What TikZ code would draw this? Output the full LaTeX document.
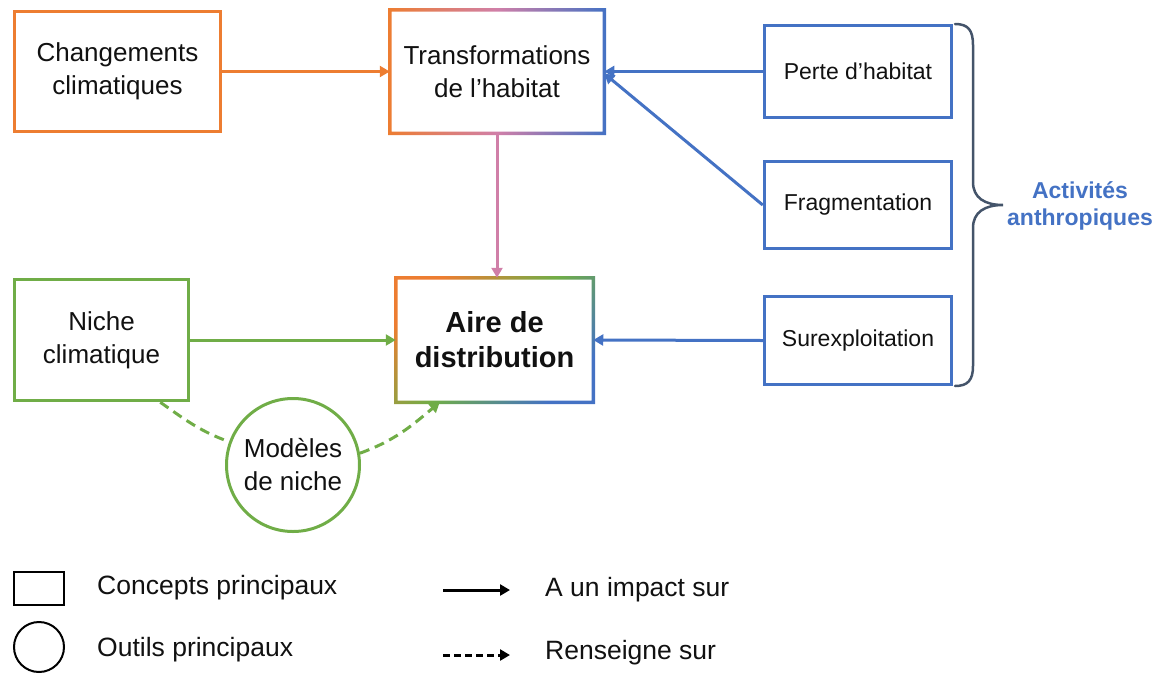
\documentclass[tikz,border=0pt]{standalone}
\usepackage{fontspec}
\setmainfont{Liberation Sans}
\usetikzlibrary{arrows.meta,shapes.geometric}
\definecolor{corange}{HTML}{ED7D31}
\definecolor{cblue}{HTML}{4472C4}
\definecolor{cgreen}{HTML}{70AD47}
\definecolor{cpink}{HTML}{D07FA8}
\definecolor{cbrace}{HTML}{44546A}
\definecolor{ctext}{HTML}{111111}
\begin{document}
\begin{tikzpicture}[x=1pt,y=1pt,
  box/.style={rectangle, line width=3.5pt, align=center, inner sep=0pt, text=ctext,
    font=\fontsize{26}{33}\selectfont},
  sbox/.style={box, draw=cblue, font=\fontsize{23}{27}\selectfont},
  arr/.style={line width=3pt, -{Triangle[length=10pt,width=11pt]}},
  darr/.style={arr, dash pattern=on 10pt off 6pt},
  legtext/.style={anchor=west, inner sep=0pt, text=ctext, font=\fontsize{26.5}{31}\selectfont},
]
\useasboundingbox (0,0) rectangle (1163,-673);

% main nodes
\node[box, draw=corange, minimum width=206pt, minimum height=120pt] (cc) at (117.5,-71.5) {Changements\\climatiques};
\node[box, minimum width=211pt, minimum height=120pt] (tr) at (497,-71.5) {Transformations\\de l’habitat};
\node[sbox, minimum width=187pt, minimum height=92pt] (pe) at (858,-71.5) {Perte d’habitat};
\node[sbox, minimum width=187pt, minimum height=87pt] (fr) at (858,-205) {Fragmentation};
\node[sbox, minimum width=187pt, minimum height=88pt] (su) at (858,-340.5) {Surexploitation};
\node[box, draw=cgreen, minimum width=174pt, minimum height=121pt] (ni) at (101.5,-340) {Niche\\climatique};
\node[box, minimum width=194pt, minimum height=121pt, font=\fontsize{29}{35}\selectfont\bfseries] (ai) at (494.5,-340) {Aire de\\distribution};
\node[box, circle, draw=cgreen, line width=3pt, minimum size=133pt] (mo) at (293,-465) {Modèles\\de niche};

% gradient frames
\shade[even odd rule, left color=corange, right color=cblue, middle color=cpink]
  ([shift={(-1.75pt,1.75pt)}]tr.north west) rectangle ([shift={(1.75pt,-1.75pt)}]tr.south east)
  ([shift={(1.75pt,-1.75pt)}]tr.north west) rectangle ([shift={(-1.75pt,1.75pt)}]tr.south east);
\shade[even odd rule, left color=corange, right color=cblue, middle color=cgreen, shading angle=45]
  ([shift={(-1.75pt,1.75pt)}]ai.north west) rectangle ([shift={(1.75pt,-1.75pt)}]ai.south east)
  ([shift={(1.75pt,-1.75pt)}]ai.north west) rectangle ([shift={(-1.75pt,1.75pt)}]ai.south east);

% brace and label
\draw[cbrace, line width=2.5pt, line cap=round]
  (955,-24) .. controls (968,-24) and (973,-30) .. (973,-45) -- (973,-182)
  .. controls (973,-198) and (985,-205) .. (1003,-205)
  .. controls (985,-205) and (973,-212) .. (973,-228) -- (973,-366)
  .. controls (973,-380) and (968,-386) .. (955,-386);
\node[align=center, text=cblue, inner sep=0pt, font=\fontsize{23}{27}\selectfont\bfseries] (act) at (1080,-206) {Activités\\anthropiques};

% connectors
\draw[arr, corange] (cc.east) -- (tr.west);
\draw[arr, cblue] (pe.west) -- (tr.east);
\draw[arr, cblue] (fr.west) -- ([yshift=-2pt]tr.east);
\draw[arr, cpink] (tr.south) -- (tr.south |- ai.north);
\draw[arr, cgreen] (ni.east) -- (ai.west);
\draw[arr, cblue] (su.west) -- (ai.east);
\draw[cgreen, line width=3pt, dash pattern=on 10pt off 6pt] ([xshift=-30pt]ni.south east) to[out=-35, in=160] (mo.160);
\draw[darr, cgreen] (mo.10) to[out=20, in=220] ([xshift=44pt]ai.south west);

% legend
\node[draw=black, line width=2pt, minimum width=50pt, minimum height=33pt, inner sep=0pt] (lrect) at (39,-588) {};
\node[draw=black, circle, line width=2pt, minimum size=50pt, inner sep=0pt] (lcirc) at (39,-647) {};
\node[legtext] (t1) at (97,-588) {Concepts principaux};
\node[legtext] (t2) at (97,-650) {Outils principaux};
\coordinate (a1) at (443,-590);
\coordinate (a2) at (510,-590);
\coordinate (b1) at (443,-655);
\coordinate (b2) at (510,-655);
\draw[arr, black] (a1) -- (a2);
\draw[arr, black, dash pattern=on 7pt off 4pt] (b1) -- (b2);
\node[legtext] (t3) at (545,-590) {A un impact sur};
\node[legtext] (t4) at (545,-653) {Renseigne sur};
\end{tikzpicture}
\end{document}
